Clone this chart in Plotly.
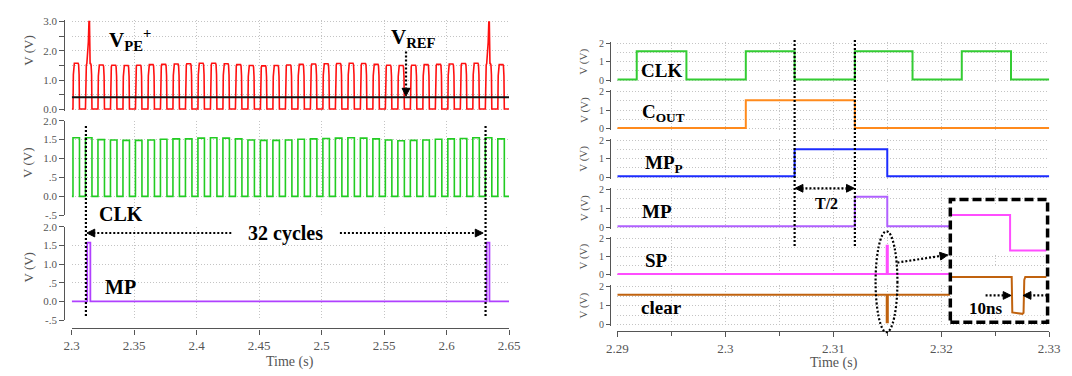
import plotly.graph_objects as go

W, H = 1072, 376

# ---------------- data: left panel (long time scale) ----------------
L_T_RANGE = [2.30, 2.65]
L_CLK_RISE = [2.3010, 2.3110, 2.3210, 2.3310, 2.3410, 2.3510, 2.3610, 2.3710, 2.3810, 2.3910,
              2.4010, 2.4110, 2.4210, 2.4310, 2.4410, 2.4510, 2.4610, 2.4710, 2.4810, 2.4910,
              2.5010, 2.5110, 2.5210, 2.5310, 2.5410, 2.5510, 2.5610, 2.5710, 2.5810, 2.5910,
              2.6010, 2.6110, 2.6210, 2.6310, 2.6410]
L_CLK_FALL = [2.3062, 2.3162, 2.3262, 2.3362, 2.3462, 2.3562, 2.3662, 2.3762, 2.3862, 2.3962,
              2.4062, 2.4162, 2.4262, 2.4362, 2.4462, 2.4562, 2.4662, 2.4762, 2.4862, 2.4962,
              2.5062, 2.5162, 2.5262, 2.5362, 2.5462, 2.5562, 2.5662, 2.5762, 2.5862, 2.5962,
              2.6062, 2.6162, 2.6262, 2.6362, 2.6462]
L_CLK_HIGH = [1.55, 1.55, 1.50, 1.49, 1.48, 1.48, 1.49, 1.51, 1.52, 1.52, 1.54, 1.55, 1.54, 1.52,
              1.49, 1.48, 1.48, 1.49, 1.51, 1.52, 1.53, 1.54, 1.55, 1.54, 1.52, 1.49, 1.47, 1.48,
              1.49, 1.51, 1.52, 1.53, 1.55, 1.55, 1.52]
L_CLK_LOW = 0.0
L_VPE_HIGH = [1.58, 1.57, 1.52, 1.51, 1.50, 1.51, 1.53, 1.54, 1.55, 1.56, 1.58, 1.58, 1.56, 1.53,
              1.50, 1.49, 1.50, 1.52, 1.54, 1.55, 1.56, 1.57, 1.58, 1.57, 1.54, 1.51, 1.50, 1.51,
              1.53, 1.54, 1.55, 1.57, 1.58, 1.57, 1.53]
L_VPE_LOW = 0.02
L_VPE_SPIKE_T = [2.3141, 2.6341]
L_VPE_SPIKE_PEAK = [3.0, 2.98]
L_VREF = 0.42
L_MP_RISE = [2.3124, 2.6321]
L_MP_FALL = [2.3149, 2.6343]
L_MP_HIGH = [1.58, 1.58]
L_MP_LOW = 0.0
L_MARK_T = [2.31136, 2.63119]
L_XTICKS = [2.30, 2.35, 2.40, 2.45, 2.50, 2.55, 2.60, 2.65]
L_XTICKTEXT = ["2.3", "2.35", "2.4", "2.45", "2.5", "2.55", "2.6", "2.65"]
L_YTICKS_TOP = [0.0, 1.0, 2.0, 3.0]
L_YTICKTEXT_TOP = ["0.0", "1.0", "2.0", "3.0"]
L_YTICKS = [-0.5, 0.0, 0.5, 1.0, 1.5, 2.0]
L_YTICKTEXT = ["-.5", "0.0", ".5", "1.0", "1.5", "2.0"]

# ---------------- data: right panel (zoomed time scale) ----------------
R_T_RANGE = [2.29, 2.33]
R_CLK_RISE = [2.2918, 2.3019, 2.3120, 2.3219]
R_CLK_FALL = [2.2964, 2.30642, 2.31734, 2.32646]
R_CLK_HIGH = [1.56, 1.56, 1.56, 1.56]
R_COUT_RISE = [2.3019]
R_COUT_FALL = [2.3120]
R_COUT_HIGH = [1.53]
R_MPP_RISE = [2.30642]
R_MPP_FALL = [2.3150]
R_MPP_HIGH = [1.53]
R_MP_RISE = [2.3120]
R_MP_FALL = [2.3150]
R_MP_HIGH = [1.60]
R_SP_RISE = [2.31495]
R_SP_FALL = [2.31505]
R_SP_HIGH = [1.59]
R_CLR_RISE = [2.31495]
R_CLR_FALL = [2.31505]
R_CLR_DIP = [0.12]
R_CLR_LEVEL = 1.58
R_LOW = 0.04
R_HIDDEN_FROM = 2.3208   # traces hidden behind the inset box from here on
R_MARK_T = [2.30642, 2.3120]
R_XTICKS = [2.29, 2.30, 2.31, 2.32, 2.33]
R_XTICKTEXT = ["2.29", "2.3", "2.31", "2.32", "2.33"]

# inset (time in ns)
INSET_RANGE = [0, 76.7]
INSET_T_SP = [0, 47.1, 47.1, 76.7]
INSET_SP = [1.55, 1.55, 0.10, 0.10]
INSET_T_CLR = [0, 48.4, 48.9, 57.1, 58.0, 58.6, 59.4, 76.7]
INSET_CLR = [1.57, 1.57, 0.12, 0.06, 0.10, 1.45, 1.57, 1.57]

# ---------------- helpers ----------------
def PX(x):
    return x / W


def PY(y):
    return 1 - y / H


def ydom(p0, p2, v_lo, v_hi, rng):
    ppv = (p0 - p2) / (v_hi - v_lo)
    bot = p0 + (v_lo - rng[0]) * ppv
    top = p2 - (rng[1] - v_hi) * ppv
    return [PY(bot), PY(top)]


def step_wave(t0, t1, rises, falls, highs, low):
    xs, ys = [t0], [low]
    for r, f, h in zip(rises, falls, highs):
        xs += [r, r, f, f]
        ys += [low, h, h, low]
    xs.append(t1)
    ys.append(low)
    return xs, ys


def rounded_wave(t0, t1, rises, falls, highs, low, spikes, peaks):
    xs, ys = [t0], [low]
    for r, f, h in zip(rises, falls, highs):
        xs += [r, r + 0.0003, r + 0.0007, r + 0.0011]
        ys += [low, 0.75 * h, 0.97 * h, h]
        for ts, pk in zip(spikes, peaks):
            if r < ts < f:
                xs += [ts - 0.0020, ts - 0.0008, ts - 0.0003, ts + 0.0001, ts + 0.0006]
                ys += [h, 2.3, pk, pk, h]
        xs += [f - 0.0011, f - 0.0007, f - 0.0003, f]
        ys += [h, 0.97 * h, 0.75 * h, low]
    xs.append(t1)
    ys.append(low)
    return xs, ys


SERIF = "Liberation Serif"
GRAY = "#555555"
GRIDC = "#c4c4c4"
GRIDDASH = "1px,2px"

fig = go.Figure()

# ---------------- left traces ----------------
x, y = rounded_wave(L_T_RANGE[0], L_T_RANGE[1], L_CLK_RISE, L_CLK_FALL, L_VPE_HIGH, L_VPE_LOW,
                    L_VPE_SPIKE_T, L_VPE_SPIKE_PEAK)
fig.add_trace(go.Scatter(x=x, y=y, mode="lines", line=dict(color="#ff1010", width=1.6),
                         xaxis="x", yaxis="y", hoverinfo="skip"))
fig.add_trace(go.Scatter(x=L_T_RANGE, y=[L_VREF, L_VREF], mode="lines",
                         line=dict(color="#111111", width=1.8), xaxis="x", yaxis="y"))
x, y = step_wave(L_T_RANGE[0], L_T_RANGE[1], L_CLK_RISE, L_CLK_FALL, L_CLK_HIGH, L_CLK_LOW)
fig.add_trace(go.Scatter(x=x, y=y, mode="lines", line=dict(color="#22cc22", width=1.6),
                         xaxis="x2", yaxis="y2"))
x, y = step_wave(L_T_RANGE[0], L_T_RANGE[1], L_MP_RISE, L_MP_FALL, L_MP_HIGH, L_MP_LOW)
fig.add_trace(go.Scatter(x=x, y=y, mode="lines", line=dict(color="#b040ff", width=1.8),
                         xaxis="x3", yaxis="y3"))

# ---------------- right traces ----------------
rt0, rt1 = R_T_RANGE
specs = [
    (R_CLK_RISE, R_CLK_FALL, R_CLK_HIGH, R_LOW, rt1, "#33cc33", 4),
    (R_COUT_RISE, R_COUT_FALL, R_COUT_HIGH, R_LOW, rt1, "#ff8a1c", 5),
    (R_MPP_RISE, R_MPP_FALL, R_MPP_HIGH, R_LOW, rt1, "#1c2cff", 6),
    (R_MP_RISE, R_MP_FALL, R_MP_HIGH, R_LOW, R_HIDDEN_FROM, "#b060ff", 7),
    (R_SP_RISE, R_SP_FALL, R_SP_HIGH, R_LOW, R_HIDDEN_FROM, "#ff4dff", 8),
    (R_CLR_RISE, R_CLR_FALL, R_CLR_DIP, R_CLR_LEVEL, R_HIDDEN_FROM, "#c0620e", 9),
]
for ri, fa, hi, lo, tend, col, k in specs:
    x, y = step_wave(rt0, tend, ri, fa, hi, lo)
    fig.add_trace(go.Scatter(x=x, y=y, mode="lines", line=dict(color=col, width=2),
                             xaxis=f"x{k}", yaxis=f"y{k}"))

# inset traces
fig.add_trace(go.Scatter(x=INSET_T_SP, y=INSET_SP, mode="lines",
                         line=dict(color="#ff4dff", width=2), xaxis="x10", yaxis="y10"))
fig.add_trace(go.Scatter(x=INSET_T_CLR, y=INSET_CLR, mode="lines",
                         line=dict(color="#c0620e", width=2), xaxis="x10", yaxis="y11"))

# ---------------- axes ----------------
lay = dict(width=W, height=H, margin=dict(l=0, r=0, t=0, b=0), showlegend=False,
           paper_bgcolor="white", plot_bgcolor="white",
           font=dict(family=SERIF, size=13, color=GRAY))

LX = [PX(62), PX(508.5)]
tickfont = dict(family=SERIF, size=13, color=GRAY)
ytickfont = dict(family=SERIF, size=11, color=GRAY)


def xgrid_axis(dom, rng, vals, text, anchor, show, minor=None, pos=None):
    d = dict(domain=dom, range=rng, tickmode="array", tickvals=vals, ticktext=text,
             showgrid=True, gridcolor=GRIDC, griddash=GRIDDASH, gridwidth=1, zeroline=False,
             anchor=anchor)
    if show:
        d.update(showline=True, linecolor=GRAY, linewidth=1.3, ticks="outside", ticklen=5,
                 tickwidth=1.2, tickcolor=GRAY, tickfont=tickfont, showticklabels=True,
                 anchor="free", position=pos)
    else:
        d.update(showline=False, ticks="", showticklabels=False)
    if minor:
        d["minor"] = minor
    return d


# left y axes
top_rng = [-0.05, 3.05]
lay["yaxis"] = dict(domain=ydom(107, 16, 0, 3, top_rng), range=top_rng, anchor="free",
                    position=PX(54.5), tickmode="array", tickvals=L_YTICKS_TOP,
                    ticktext=L_YTICKTEXT_TOP, showline=True, linecolor=GRAY, linewidth=1.3,
                    ticks="outside", ticklen=5, tickcolor=GRAY, tickfont=ytickfont,
                    showgrid=True, gridcolor=GRIDC, griddash=GRIDDASH, zeroline=False,
                    minor=dict(tickmode="array", tickvals=[0.5, 1.5, 2.5], ticks="outside",
                               ticklen=5, tickcolor=GRAY, showgrid=True, gridcolor=GRIDC,
                               griddash=GRIDDASH))
for k, (p0, p2) in zip([2, 3], [(196.6, 118.5), (305.2, 228.2)]):
    lay[f"yaxis{k}"] = dict(domain=ydom(p0, p2, 0, 2, [-0.5, 2.0]), range=[-0.5, 2.0],
                            anchor="free", position=PX(54.5), tickmode="array",
                            tickvals=L_YTICKS, ticktext=L_YTICKTEXT, showline=True,
                            linecolor=GRAY, linewidth=1.3, ticks="outside", ticklen=5,
                            tickcolor=GRAY, tickfont=ytickfont, showgrid=True, gridcolor=GRIDC,
                            griddash=GRIDDASH, zeroline=False)
lay["xaxis"] = xgrid_axis(LX, L_T_RANGE, L_XTICKS, L_XTICKTEXT, "y", False)
lay["xaxis2"] = xgrid_axis(LX, L_T_RANGE, L_XTICKS, L_XTICKTEXT, "y2", False)
lay["xaxis3"] = xgrid_axis(LX, L_T_RANGE, L_XTICKS, L_XTICKTEXT, "y3", True, pos=PY(333))

# right axes
RX = [PX(619), PX(1060)]
r_rng = [-0.08, 2.08]
r_pos = [(76.7, 38.3), (126.7, 88.3), (176.7, 139), (228.3, 189.3), (277.7, 240), (329, 290)]
rminor = dict(dtick=0.005, tick0=2.29, showgrid=True, gridcolor=GRIDC, griddash=GRIDDASH)
for i, (p0, p2) in enumerate(r_pos):
    k = 4 + i
    lay[f"yaxis{k}"] = dict(domain=ydom(p0, p2, 0, 2, r_rng), range=r_rng, anchor="free",
                            position=PX(611.7), tickmode="array", tickvals=[0, 1, 2],
                            ticktext=["0", "1", "2"], showline=True, linecolor=GRAY,
                            linewidth=1.3, ticks="outside", ticklen=4, tickcolor=GRAY,
                            tickfont=dict(family=SERIF, size=10, color=GRAY), showgrid=True,
                            gridcolor=GRIDC, griddash=GRIDDASH, zeroline=False,
                            minor=dict(tickmode="array", tickvals=[0.5, 1.5], ticks="",
                                       showgrid=True, gridcolor=GRIDC, griddash=GRIDDASH))
    last = (k == 9)
    mn = dict(rminor)
    if last:
        mn.update(ticks="outside", ticklen=4, tickcolor=GRAY)
    lay[f"xaxis{k}"] = xgrid_axis(RX, R_T_RANGE, R_XTICKS, R_XTICKTEXT, f"y{k}", last,
                                  minor=mn, pos=PY(336))

# inset axes (invisible)
lay["xaxis10"] = dict(domain=[PX(960.7), PX(1057.3)], range=INSET_RANGE, visible=False,
                      anchor="y10")
lay["yaxis10"] = dict(domain=ydom(255.2, 204.6, 0, 2, [0, 2]), range=[0, 2], visible=False,
                      anchor="x10")
lay["yaxis11"] = dict(domain=ydom(319.5, 269.1, 0, 2, [0, 2]), range=[0, 2], visible=False,
                      anchor="x10")

fig.update_layout(**lay)

# ---------------- annotations (text) ----------------
ann = []


def txt(t, x, y, size, xanchor="center", yanchor="middle", color="black", angle=0):
    ann.append(dict(text=t, x=PX(x), y=PY(y), xref="paper", yref="paper", showarrow=False,
                    xanchor=xanchor, yanchor=yanchor, textangle=angle,
                    font=dict(family=SERIF, size=size, color=color)))


txt("<b>V<sub>PE</sub><sup>+</sup></b>", 98, 35, 21, xanchor="left")
txt("<b>V<sub>REF</sub></b>", 386, 33, 21, xanchor="left")
txt("<b>CLK</b>", 112, 215, 20)
txt("<b>32 cycles</b>", 280, 235, 20)
txt("<b>MP</b>", 112, 290, 20)
txt("<b>CLK</b>", 664, 67, 19)
txt("<b>C<sub>OUT</sub></b>", 642, 111, 19, xanchor="left")
txt("<b>MP<sub>P</sub></b>", 645, 163, 19, xanchor="left")
txt("<b>T/2</b>", 832.5, 204, 16)
txt("<b>MP</b>", 660, 212, 19)
txt("<b>SP</b>", 659, 263, 19)
txt("<b>clear</b>", 664, 311, 19)
txt("<b>10ns</b>", 994.7, 312.5, 17)
for yc in [46, 162, 270]:
    txt("V (V)", 17.5, yc, 13, color=GRAY, angle=-90)
for p0, p2 in r_pos:
    txt("V (V)", 585, (p0 + p2) / 2, 11, color=GRAY, angle=-90)
txt("Time (s)", 285, 368, 14, color=GRAY)
txt("Time (s)", 840, 369, 14, color=GRAY)

# ---------------- shapes (arrows, markers, inset box) ----------------
shapes = []
DOT = dict(color="black", width=2.2, dash="2px,2px")


def pline(x0, y0, x1, y1, line=DOT):
    shapes.append(dict(type="line", xref="paper", yref="paper", x0=PX(x0), y0=PY(y0),
                       x1=PX(x1), y1=PY(y1), line=line, layer="above"))


def head(tx, ty, dx, dy, L=8, Wd=4):
    n = (dx * dx + dy * dy) ** 0.5
    ux, uy = dx / n, dy / n
    bx, by = tx - ux * L, ty - uy * L
    px_, py_ = -uy * Wd, ux * Wd
    pts = [(tx, ty), (bx + px_, by + py_), (bx - px_, by - py_)]
    path = "M " + " L ".join(f"{PX(a):.5f},{PY(b):.5f}" for a, b in pts) + " Z"
    shapes.append(dict(type="path", xref="paper", yref="paper", path=path,
                       fillcolor="black", line=dict(color="black", width=1), layer="above"))


# left vertical markers
for t in L_MARK_T:
    shapes.append(dict(type="line", xref="x3", yref="paper", x0=t, x1=t, y0=PY(124),
                       y1=PY(321), line=DOT, layer="above"))
# V_REF arrow
pline(403.3, 47, 403.3, 85)
head(403.3, 93, 0, 1)
# 32 cycles arrows
pline(84, 234.5, 225.6, 234.5)
head(77.5, 234.5, -1, 0)
pline(335.8, 234.5, 475, 234.5)
head(482, 234.5, 1, 0)

# right vertical markers
for t in R_MARK_T:
    shapes.append(dict(type="line", xref="x9", yref="paper", x0=t, x1=t, y0=PY(35),
                       y1=PY(249), line=DOT, layer="above"))
# T/2 arrows
pline(807, 188.3, 854, 188.3)
head(800.5, 188.3, -1, 0)
head(861, 188.3, 1, 0)
# ellipse around the SP / clear pulse
shapes.append(dict(type="circle", xref="paper", yref="paper", x0=PX(882.7), x1=PX(905),
                   y0=PY(337), y1=PY(232.7), line=DOT, layer="above"))
# arrow to inset
pline(905, 265, 949, 258.2)
head(956.5, 257.2, 50, -7.8)
# inset box
shapes.append(dict(type="rect", xref="paper", yref="paper", x0=PX(959), x1=PX(1058.3),
                   y0=PY(326.7), y1=PY(200),
                   line=dict(color="black", width=3.5, dash="9px,4px"), layer="above"))
# 10ns arrows
pline(995, 299, 1013, 299)
head(1021, 299, 1, 0)
pline(1058, 299, 1041, 299)
head(1033.3, 299, -1, 0)

fig.update_layout(annotations=ann, shapes=shapes)
fig.write_html("out.html")
